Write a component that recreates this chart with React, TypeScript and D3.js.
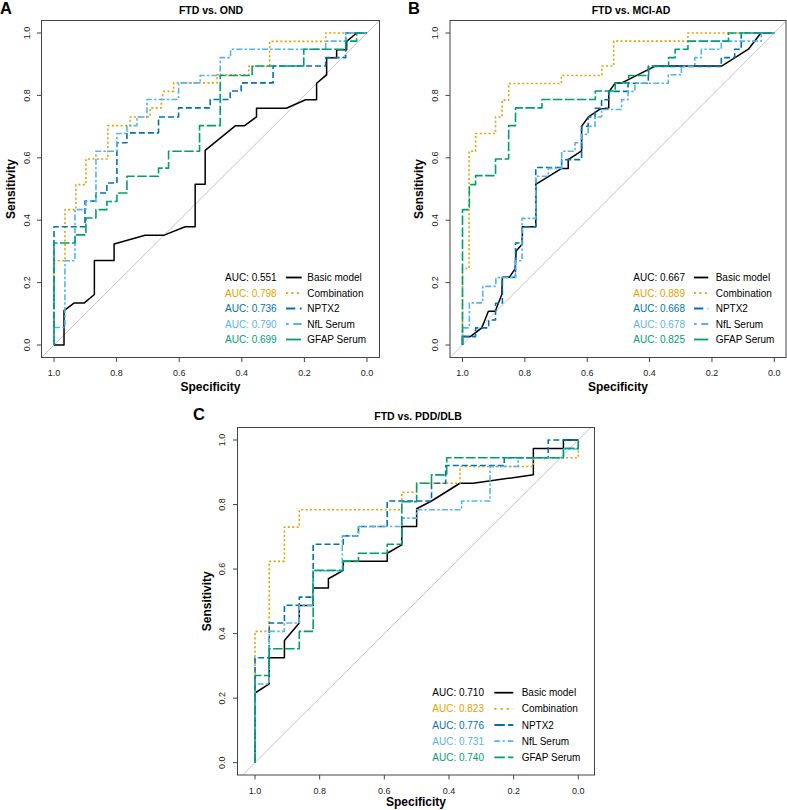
import React from "react";
import * as d3 from "d3";

type Pt = [number, number]; // [specificity, sensitivity]

const seriesNames = ["Basic model", "Combination", "NPTX2", "NfL Serum", "GFAP Serum"];
const seriesColors = ["#000000", "#E69F00", "#0072B2", "#56B4E9", "#009E73"];
const seriesDash = ["", "2,2.4", "6,3", "2.4,2.2,6,2.2", "9.5,2.5"];
const legendDash = ["", "1.8,3.7", "9.3,4.5", "2.7,4.5,8.7,4.5", "15,4"];
const legendDashC = ["", "2.2,4", "10.5,3.3", "5.5,3,2,3", "10.5,3.3"];
const axisTicks = [0, 0.2, 0.4, 0.6, 0.8, 1.0];
const tickLabels = ["0.0", "0.2", "0.4", "0.6", "0.8", "1.0"];

// ---------- Panel A: FTD vs. OND ----------
const ondAuc = ["0.551", "0.798", "0.736", "0.790", "0.699"];
const ondBasic: Pt[] = [[1,0],[.968,0],[.968,.110],[.935,.135],[.903,.135],[.871,.162],[.871,.271],[.808,.271],[.808,.324],[.709,.352],[.648,.352],[.581,.379],[.549,.379],[.549,.515],[.517,.515],[.517,.624],[.420,.703],[.391,.703],[.353,.731],[.353,.759],[.258,.759],[.196,.786],[.161,.786],[.161,.839],[.129,.866],[.129,.921],[.097,.921],[.097,.946],[.065,.946],[.065,.973],[.033,1],[0,1]];
const ondCombination: Pt[] = [[1,0],[1,.270],[.965,.270],[.965,.434],[.930,.434],[.930,.514],[.898,.514],[.898,.596],[.828,.596],[.828,.703],[.757,.703],[.757,.731],[.693,.731],[.693,.760],[.657,.760],[.657,.786],[.650,.813],[.618,.813],[.618,.840],[.479,.840],[.479,.866],[.378,.866],[.378,.893],[.311,.893],[.311,.973],[.132,.973],[.132,1],[0,1]];
const ondNptx2: Pt[] = [[1,0],[1,.379],[.901,.379],[.901,.461],[.866,.461],[.866,.487],[.831,.487],[.831,.519],[.799,.519],[.799,.648],[.767,.648],[.767,.680],[.666,.680],[.666,.731],[.602,.731],[.602,.760],[.501,.760],[.501,.787],[.437,.787],[.437,.814],[.402,.814],[.402,.840],[.300,.840],[.300,.894],[.132,.894],[.132,.921],[.068,.921],[.068,1],[0,1]];
const ondNfl: Pt[] = [[1,0],[1,.056],[.965,.056],[.965,.270],[.933,.270],[.933,.434],[.898,.434],[.898,.460],[.866,.460],[.866,.621],[.799,.621],[.799,.678],[.767,.678],[.767,.703],[.735,.703],[.735,.731],[.703,.731],[.703,.787],[.602,.787],[.602,.840],[.533,.840],[.533,.864],[.469,.864],[.469,.921],[.436,.921],[.436,.948],[.132,.948],[.132,.974],[.068,.974],[.068,1],[0,1]];
const ondGfap: Pt[] = [[1,0],[1,.327],[.933,.327],[.933,.353],[.898,.353],[.898,.407],[.866,.407],[.866,.434],[.831,.434],[.831,.460],[.799,.460],[.799,.487],[.767,.487],[.767,.541],[.666,.541],[.666,.567],[.634,.567],[.634,.621],[.535,.621],[.535,.703],[.469,.703],[.469,.864],[.367,.864],[.367,.894],[.202,.894],[.202,.948],[.068,.948],[.068,.974],[.033,.974],[.033,1],[0,1]];

// ---------- Panel B: FTD vs. MCI-AD ----------
const mciAuc = ["0.667", "0.889", "0.668", "0.678", "0.825"];
const mciBasic: Pt[] = [[1,0],[1,.027],[.975,.027],[.938,.055],[.917,.108],[.895,.108],[.874,.162],[.872,.217],[.850,.217],[.831,.245],[.828,.301],[.808,.324],[.808,.379],[.765,.379],[.765,.515],[.682,.566],[.661,.566],[.661,.594],[.618,.622],[.618,.701],[.596,.731],[.559,.756],[.531,.760],[.531,.810],[.510,.840],[.489,.840],[.382,.894],[.169,.894],[.083,.948],[.043,1],[0,1]];
const mciCombination: Pt[] = [[1,0],[1,.245],[.979,.245],[.979,.621],[.958,.621],[.958,.678],[.894,.678],[.894,.731],[.873,.731],[.873,.785],[.852,.785],[.852,.838],[.683,.838],[.683,.864],[.553,.864],[.553,.894],[.515,.894],[.515,.974],[.277,.974],[.277,1],[0,1]];
const mciNptx2: Pt[] = [[1,0],[1,.027],[.958,.027],[.958,.055],[.916,.055],[.916,.080],[.894,.080],[.894,.134],[.872,.134],[.872,.217],[.830,.217],[.830,.327],[.809,.327],[.809,.379],[.765,.379],[.765,.569],[.682,.569],[.682,.594],[.618,.594],[.618,.701],[.597,.701],[.597,.731],[.575,.731],[.575,.759],[.554,.759],[.554,.786],[.531,.786],[.531,.813],[.469,.813],[.469,.839],[.404,.839],[.404,.893],[.170,.893],[.170,.921],[.127,.921],[.127,.948],[.106,.948],[.106,1],[0,1]];
const mciNfl: Pt[] = [[1,0],[1,.055],[.978,.055],[.978,.135],[.935,.135],[.935,.188],[.893,.188],[.893,.216],[.830,.216],[.830,.270],[.809,.270],[.809,.406],[.765,.406],[.765,.541],[.725,.541],[.725,.566],[.682,.566],[.682,.621],[.639,.621],[.639,.648],[.618,.648],[.618,.675],[.597,.675],[.597,.701],[.575,.701],[.575,.731],[.554,.731],[.554,.755],[.490,.755],[.490,.786],[.469,.786],[.469,.813],[.447,.813],[.447,.839],[.340,.839],[.340,.866],[.298,.866],[.298,.893],[.255,.893],[.255,.921],[.234,.921],[.234,.948],[.170,.948],[.170,.974],[.042,.974],[.042,1],[0,1]];
const mciGfap: Pt[] = [[1,0],[1,.434],[.978,.434],[.978,.514],[.958,.514],[.958,.543],[.894,.543],[.894,.596],[.852,.596],[.852,.703],[.830,.703],[.830,.760],[.745,.760],[.745,.787],[.574,.787],[.574,.814],[.510,.814],[.510,.840],[.467,.840],[.467,.864],[.403,.864],[.403,.894],[.339,.894],[.339,.921],[.318,.921],[.318,.948],[.277,.948],[.277,.974],[.147,.974],[.147,1],[0,1]];

// ---------- Panel C: FTD vs. PDD/DLB ----------
const pddAuc = ["0.710", "0.823", "0.776", "0.731", "0.740"];
const pddBasic: Pt[] = [[1,0],[1,.216],[.956,.244],[.956,.325],[.909,.325],[.909,.379],[.863,.433],[.863,.487],[.820,.487],[.820,.541],[.773,.541],[.773,.570],[.727,.596],[.727,.624],[.591,.624],[.591,.649],[.546,.675],[.546,.732],[.500,.732],[.500,.787],[.454,.811],[.366,.866],[.325,.866],[.139,.892],[.139,.974],[.046,.974],[.046,1],[0,1]];
const pddCombination: Pt[] = [[1,0],[1,.407],[.956,.407],[.956,.624],[.909,.624],[.909,.730],[.863,.730],[.863,.784],[.546,.784],[.546,.838],[.500,.838],[.500,.866],[.366,.866],[.366,.918],[.139,.918],[.139,.945],[0,.945],[0,1]];
const pddNptx2: Pt[] = [[1,0],[1,.325],[.956,.325],[.956,.433],[.909,.433],[.909,.488],[.863,.488],[.863,.513],[.820,.513],[.820,.677],[.727,.677],[.727,.703],[.680,.703],[.680,.732],[.591,.732],[.591,.811],[.454,.811],[.454,.866],[.410,.866],[.410,.921],[.229,.921],[.229,.945],[.093,.945],[.093,1],[0,1]];
const pddNfl: Pt[] = [[1,0],[1,.244],[.956,.244],[.956,.407],[.909,.407],[.909,.433],[.863,.433],[.863,.488],[.820,.488],[.820,.595],[.730,.595],[.730,.703],[.680,.703],[.680,.732],[.546,.732],[.546,.758],[.500,.758],[.500,.784],[.361,.784],[.361,.811],[.273,.811],[.273,.918],[.186,.918],[.186,.945],[.046,.945],[.046,.972],[0,.972],[0,1]];
const pddGfap: Pt[] = [[1,0],[1,.270],[.956,.270],[.956,.353],[.863,.353],[.863,.407],[.820,.407],[.820,.596],[.727,.596],[.727,.624],[.680,.624],[.680,.649],[.591,.649],[.591,.677],[.546,.677],[.546,.809],[.500,.809],[.500,.866],[.454,.866],[.454,.892],[.407,.892],[.407,.945],[.046,.945],[.046,.974],[0,.974],[0,1]];

const FONT = "'Liberation Sans', Arial, Helvetica, sans-serif";

interface PanelCfg {
  id: string;
  letter: string;
  title: string;
  curves: Pt[][];
  auc: string[];
  legDash: string[];
  xr: [number, number];
  yr: [number, number];
  box: [number, number, number, number];
  titleX: number;
  titleY: number;
  letterX: number;
  letterY: number;
  yLabX: number;
  xLabY: number;
  yTitleX: number;
  xTitleY: number;
  legAucX: number;
  legLine: [number, number];
  legTextX: number;
  legY0: number;
  legDy: number;
}

const panels: PanelCfg[] = [
  {
    id: "a", letter: "A", title: "FTD vs. OND",
    curves: [ondBasic, ondCombination, ondNptx2, ondNfl, ondGfap], auc: ondAuc, legDash: legendDash,
    xr: [54, 367], yr: [345, 33], box: [41.5, 20.5, 379.5, 357.5],
    titleX: 211, titleY: 14, letterX: 0, letterY: 13.5,
    yLabX: 30, xLabY: 376, yTitleX: 15, xTitleY: 391,
    legAucX: 276.7, legLine: [286, 301.7], legTextX: 307.3, legY0: 281.1, legDy: 15.5,
  },
  {
    id: "b", letter: "B", title: "FTD vs. MCI-AD",
    curves: [mciBasic, mciCombination, mciNptx2, mciNfl, mciGfap], auc: mciAuc, legDash: legendDash,
    xr: [462.5, 774.3], yr: [345, 33], box: [450, 20.5, 786, 357.5],
    titleX: 631, titleY: 14, letterX: 408, letterY: 13.5,
    yLabX: 438, xLabY: 376, yTitleX: 423, xTitleY: 391,
    legAucX: 685, legLine: [694, 708.3], legTextX: 715.7, legY0: 281.1, legDy: 15.5,
  },
  {
    id: "c", letter: "C", title: "FTD vs. PDD/DLB",
    curves: [pddBasic, pddCombination, pddNptx2, pddNfl, pddGfap], auc: pddAuc, legDash: legendDashC,
    xr: [255, 578.3], yr: [762.7, 440], box: [237.5, 427.5, 594.5, 775],
    titleX: 418, titleY: 420, letterX: 193, letterY: 420,
    yLabX: 225, xLabY: 794, yTitleX: 211, xTitleY: 805.5,
    legAucX: 484, legLine: [494.3, 513.3], legTextX: 521.7, legY0: 696.3, legDy: 16.15,
  },
];

function Panel({ p }: { p: PanelCfg }) {
  const x = d3.scaleLinear().domain([1, 0]).range(p.xr);
  const y = d3.scaleLinear().domain([0, 1]).range(p.yr);
  const line = d3.line<Pt>().x((d) => x(d[0])).y((d) => y(d[1]));
  const [bx0, by0, bx1, by1] = p.box;
  const cx = (bx0 + bx1) / 2;
  const cy = (by0 + by1) / 2;
  const clipId = `clip-${p.id}`;
  return (
    <g>
      <defs>
        <clipPath id={clipId}>
          <rect x={bx0} y={by0} width={bx1 - bx0} height={by1 - by0} />
        </clipPath>
      </defs>
      <text x={p.letterX} y={p.letterY} fontFamily={FONT} fontWeight="bold" fontSize={16.5} fill="#000">
        {p.letter}
      </text>
      <text x={p.titleX} y={p.titleY} fontFamily={FONT} fontWeight="bold" fontSize={10.5} textAnchor="middle" fill="#000">
        {p.title}
      </text>
      {/* identity line */}
      <g clipPath={`url(#${clipId})`}>
        <line x1={x(1.2)} y1={y(-0.2)} x2={x(-0.2)} y2={y(1.2)} stroke="#c4c4c4" strokeWidth={1} />
      </g>
      {/* curves */}
      {p.curves.map((c, i) => (
        <path
          key={i}
          d={line(c) || ""}
          fill="none"
          stroke={seriesColors[i]}
          strokeWidth={i === 0 ? 1.5 : 1.6}
          strokeDasharray={seriesDash[i] || undefined}
          strokeLinejoin="round"
        />
      ))}
      {/* box */}
      <rect x={bx0} y={by0} width={bx1 - bx0} height={by1 - by0} fill="none" stroke="#444" strokeWidth={1} />
      {/* y ticks */}
      {axisTicks.map((t, i) => (
        <g key={`yt${i}`}>
          <line x1={bx0} x2={bx0 - 4.5} y1={y(t)} y2={y(t)} stroke="#444" strokeWidth={1} />
          <text
            transform={`translate(${p.yLabX},${y(t)}) rotate(-90)`}
            textAnchor="middle"
            fontFamily={FONT}
            fontSize={9}
            fill="#222"
          >
            {tickLabels[i]}
          </text>
        </g>
      ))}
      {/* x ticks */}
      {axisTicks.map((t, i) => (
        <g key={`xt${i}`}>
          <line x1={x(t)} x2={x(t)} y1={by1} y2={by1 + 4.5} stroke="#444" strokeWidth={1} />
          <text x={x(t)} y={p.xLabY} textAnchor="middle" fontFamily={FONT} fontSize={9} fill="#222">
            {tickLabels[i]}
          </text>
        </g>
      ))}
      <text
        transform={`translate(${p.yTitleX},${cy}) rotate(-90)`}
        textAnchor="middle"
        fontFamily={FONT}
        fontWeight="bold"
        fontSize={12}
        fill="#000"
      >
        Sensitivity
      </text>
      <text x={cx} y={p.xTitleY} textAnchor="middle" fontFamily={FONT} fontWeight="bold" fontSize={12} fill="#000">
        Specificity
      </text>
      {/* legend */}
      {seriesNames.map((name, i) => {
        const ly = p.legY0 + i * p.legDy;
        return (
          <g key={`lg${i}`}>
            <text x={p.legAucX} y={ly} textAnchor="end" fontFamily={FONT} fontSize={10} fill={seriesColors[i]}>
              {`AUC: ${p.auc[i]}`}
            </text>
            <line
              x1={p.legLine[0]}
              x2={p.legLine[1]}
              y1={ly - 3.6}
              y2={ly - 3.6}
              stroke={seriesColors[i]}
              strokeWidth={1.8}
              strokeDasharray={p.legDash[i] || undefined}
            />
            <text x={p.legTextX} y={ly} fontFamily={FONT} fontSize={10} fill="#000">
              {name}
            </text>
          </g>
        );
      })}
    </g>
  );
}

export default function App() {
  return (
    <svg
      width={787}
      height={810}
      viewBox="0 0 787 810"
      style={{ position: "absolute", left: 0, top: 0, background: "#fff" }}
    >
      <rect x={0} y={0} width={787} height={810} fill="#fff" />
      {panels.map((p) => (
        <Panel key={p.id} p={p} />
      ))}
    </svg>
  );
}
